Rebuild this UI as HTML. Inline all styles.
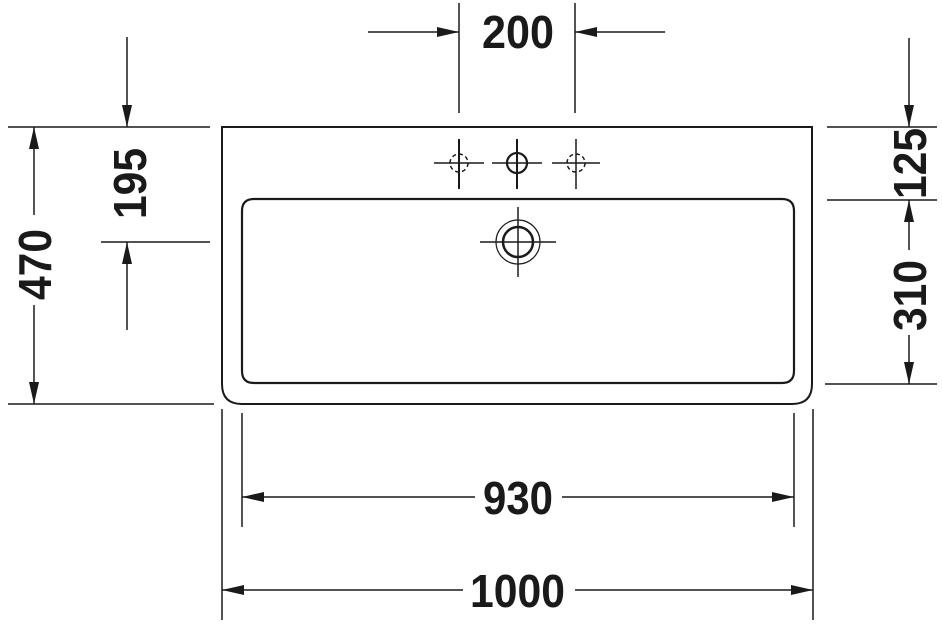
<!DOCTYPE html>
<html><head><style>html,body{margin:0;padding:0;background:#fff}svg{display:block}</style></head><body>
<svg width="942" height="625" viewBox="0 0 942 625" xmlns="http://www.w3.org/2000/svg">
<defs>
<marker id="a" viewBox="0 0 22 10" refX="22" refY="5" markerWidth="22" markerHeight="10" markerUnits="userSpaceOnUse" orient="auto"><path d="M0,0 L22,5 L0,10 Z" fill="#1a1a1a"/></marker>
</defs>
<g stroke="#1a1a1a" fill="none" stroke-width="1.5">
<!-- basin -->
<path d="M222,127 H812 V384 Q812,404 792,404 H242 Q222,404 222,384 Z" stroke-width="2"/>
<path d="M254,199 H782 Q794,199 794,211 V371 Q794,383 782,383 H254 Q242,383 242,371 V211 Q242,199 254,199 Z" stroke-width="2.2"/>
<!-- taps -->
<line x1="434" y1="163" x2="484" y2="163"/><line x1="459" y1="139" x2="459" y2="189" stroke-width="2"/>
<circle cx="459" cy="163" r="9" stroke-dasharray="4,3"/>
<line x1="492" y1="163" x2="542" y2="163"/><line x1="517" y1="139" x2="517" y2="189" stroke-width="2"/>
<circle cx="517" cy="163" r="10" stroke-width="2.2"/>
<line x1="552" y1="163" x2="600" y2="163"/><line x1="576" y1="139" x2="576" y2="189"/>
<circle cx="576" cy="163" r="9" stroke-dasharray="4,3"/>
<!-- drain -->
<line x1="480" y1="242" x2="556" y2="242"/><line x1="518" y1="207" x2="518" y2="277"/>
<circle cx="518" cy="242" r="22" stroke-width="1.2"/>
<circle cx="518" cy="242" r="15" stroke-width="2.5"/>
<!-- top 200 -->
<line x1="459" y1="3" x2="459" y2="113"/><line x1="575" y1="3" x2="575" y2="113"/>
<line x1="368" y1="32" x2="459" y2="32" marker-end="url(#a)"/>
<line x1="665" y1="32" x2="575" y2="32" marker-end="url(#a)"/>
<!-- left -->
<line x1="8" y1="127" x2="210" y2="127"/><line x1="101" y1="242" x2="210" y2="242"/><line x1="8" y1="404" x2="214" y2="404"/>
<line x1="34" y1="215" x2="34" y2="127" marker-end="url(#a)"/>
<line x1="34" y1="305" x2="34" y2="404" marker-end="url(#a)"/>
<line x1="127" y1="37" x2="127" y2="127" marker-end="url(#a)"/>
<line x1="127" y1="330" x2="127" y2="242" marker-end="url(#a)"/>
<!-- right -->
<line x1="827" y1="127" x2="937" y2="127"/><line x1="827" y1="200" x2="937" y2="200"/><line x1="825" y1="384" x2="937" y2="384"/>
<line x1="909" y1="38" x2="909" y2="127" marker-end="url(#a)"/>
<line x1="909" y1="250" x2="909" y2="200" marker-end="url(#a)"/>
<line x1="909" y1="335" x2="909" y2="384" marker-end="url(#a)"/>
<!-- bottom -->
<line x1="242" y1="413" x2="242" y2="527"/><line x1="222" y1="409" x2="222" y2="620"/>
<line x1="794" y1="413" x2="794" y2="527"/><line x1="813" y1="409" x2="813" y2="620"/>
<line x1="475" y1="497" x2="242" y2="497" marker-end="url(#a)"/>
<line x1="562" y1="497" x2="794" y2="497" marker-end="url(#a)"/>
<line x1="463" y1="590" x2="222" y2="590" marker-end="url(#a)"/>
<line x1="575" y1="590" x2="813" y2="590" marker-end="url(#a)"/>
</g>
<g font-family="Liberation Sans Narrow, Liberation Sans, sans-serif" font-weight="bold" font-size="46" fill="#1a1a1a">
<text x="482" y="48" textLength="72" lengthAdjust="spacingAndGlyphs">200</text>
<text x="483" y="514" textLength="70" lengthAdjust="spacingAndGlyphs">930</text>
<text x="470" y="607" textLength="95" lengthAdjust="spacingAndGlyphs">1000</text>
<text transform="translate(51,300) rotate(-90)" textLength="71" lengthAdjust="spacingAndGlyphs">470</text>
<text transform="translate(146,219) rotate(-90)" textLength="71" lengthAdjust="spacingAndGlyphs">195</text>
<text transform="translate(926,199) rotate(-90)" textLength="71" lengthAdjust="spacingAndGlyphs">125</text>
<text transform="translate(926,331) rotate(-90)" textLength="71" lengthAdjust="spacingAndGlyphs">310</text>
</g>
</svg>
</body></html>
